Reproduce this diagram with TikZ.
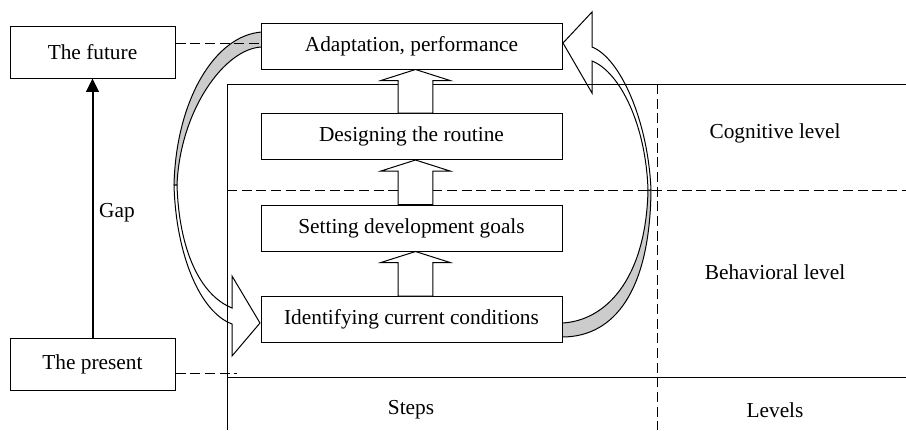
\documentclass[tikz,border=0pt]{standalone}
\usepackage{fontspec}
\setmainfont{Liberation Serif}
\usetikzlibrary{arrows.meta,calc}
\newcommand\blockarrow[2]{%
  \draw[fill=white] let \p1=(#1.north), \p2=(#2.south) in
    (\x1+3pt-13.1pt,\y1) -- (\x1+3pt-13.1pt,\y2-8.25pt) -- (\x1+3pt-25.9pt,\y2-8.25pt)
    -- (\x1+3pt,\y2) -- (\x1+3pt+25.9pt,\y2-8.25pt) -- (\x1+3pt+13.1pt,\y2-8.25pt)
    -- (\x1+3pt+13.1pt,\y1) -- cycle;}
\begin{document}
\begin{tikzpicture}[x=0.75pt,y=-0.75pt,line width=0.75pt,
  box/.style={draw,fill=white,inner sep=0pt,minimum height=34.5pt,minimum width=225.75pt,font=\fontsize{16}{19}\selectfont},
  sbox/.style={box,minimum width=123.75pt,minimum height=39pt},
  lbl/.style={inner sep=0pt,font=\fontsize{16}{19}\selectfont},
  dsh/.style={dash pattern=on 7.5pt off 3.5pt},
  grayband/.style={draw,fill=black!20,line join=round},
  whiteband/.style={draw,fill=white,line join=miter}]
\useasboundingbox (0,0) rectangle (906,430);

% curved arrow, left side
\path[grayband] (262,32) .. controls (215,35) and (176,100) .. (174,185)
  -- (177,185) .. controls (180,110) and (225,48) .. (262,47) -- cycle;
\path[whiteband] (174,185) .. controls (176,255) and (200,312) .. (232,324)
  -- (232,356) -- (260,323) -- (232,276) -- (232,308)
  .. controls (200,295) and (179,250) .. (177,185) -- cycle;

% curved arrow, right side
\path[grayband] (562,337) .. controls (615,337) and (650,290) .. (651,190)
  -- (648,190) .. controls (646,280) and (605,321) .. (562,323) -- cycle;
\path[whiteband] (651,190) .. controls (648,120) and (620,58) .. (592,47)
  -- (592,12) -- (563,43) -- (592,93) -- (592,61)
  .. controls (620,72) and (646,125) .. (648,190) -- cycle;

% frame
\draw (227,430) -- (227,84) -- (906,84);
\draw (227,377) -- (906,377);
\draw[dsh] (227,190) -- (906,190);
\draw[dsh] (657,84) -- (657,430);

% nodes
\node[sbox] (future) at (92.5,52) {The future};
\node[sbox] (present) at (92.5,364) {The present};
\node[box] (adapt) at (411.5,46) {Adaptation, performance};
\node[box] (design) at (411.5,136.5) {Designing the routine};
\node[box] (setting) at (411.5,228) {Setting development goals};
\node[box] (ident) at (411.5,319.5) {Identifying current conditions};

\node[lbl] (cog) at (775,133) {Cognitive level};
\node[lbl] (beh) at (775,272) {Behavioral level};
\node[lbl] (steps) at (411,410) {Steps};
\node[lbl] (levels) at (775,410) {Levels};
\node[lbl] (gap) at (117,213) {Gap};

% connectors
\coordinate (pend) at (237,373);
\draw[dsh] (future.east |- 0,43) -- (adapt.west |- 0,43);
\draw[dsh] (present.east |- pend) -- (pend);
\draw[line width=1.5pt,-{Triangle[width=9.5pt,length=10pt]}] (present.north) -- (future.south);

\blockarrow{design}{adapt}
\blockarrow{setting}{design}
\blockarrow{ident}{setting}
\end{tikzpicture}
\end{document}
